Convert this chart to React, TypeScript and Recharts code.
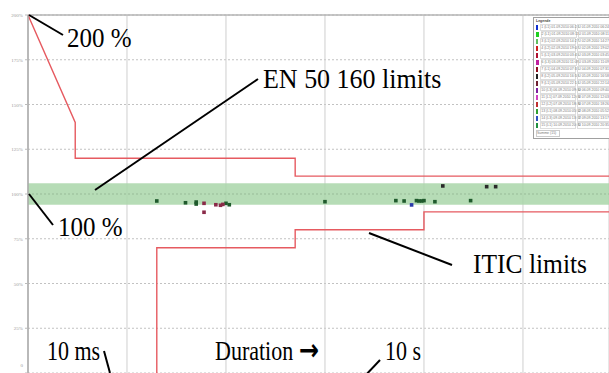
import React from "react";
import {
  CartesianGrid,
  ComposedChart,
  Legend,
  Line,
  ReferenceArea,
  ReferenceLine,
  Scatter,
  XAxis,
  YAxis,
} from "recharts";

// duration in seconds (log axis), residual voltage in %
const xTicks = [0.001, 0.01, 0.1, 1, 10, 100];
const yTicks = [0, 25, 50, 75, 100, 125, 150, 175, 200];

const iticUpper = [
  { t: 0.001, v: 200 },
  { t: 0.003, v: 140 },
  { t: 0.003, v: 120 },
  { t: 0.5, v: 120 },
  { t: 0.5, v: 110 },
  { t: 740, v: 110 },
];

const iticLower = [
  { t: 0.02, v: 0 },
  { t: 0.02, v: 70 },
  { t: 0.5, v: 70 },
  { t: 0.5, v: 80 },
  { t: 10, v: 80 },
  { t: 10, v: 90 },
  { t: 740, v: 90 },
];

const greenEvents = [
  { t: 0.02, v: 96.1 },
  { t: 0.039, v: 95.1 },
  { t: 0.05, v: 95.5 },
  { t: 0.05, v: 94.4 },
  { t: 0.1, v: 94.8 },
  { t: 0.108, v: 94.0 },
  { t: 1.0, v: 95.7 },
  { t: 5.2, v: 96.3 },
  { t: 6.3, v: 96.1 },
  { t: 8.4, v: 96.3 },
  { t: 8.9, v: 96.1 },
  { t: 9.5, v: 96.1 },
  { t: 10, v: 96.3 },
  { t: 12.9, v: 95.7 },
  { t: 29.6, v: 96.3 },
];

const redEvents = [
  { t: 0.06, v: 94.8 },
  { t: 0.06, v: 89.8 },
  { t: 0.079, v: 94.0 },
  { t: 0.088, v: 93.7 },
  { t: 0.093, v: 94.2 },
];

const blueEvents = [{ t: 7.5, v: 93.9 }];

const swellEvents = [
  { t: 15.5, v: 104.5 },
  { t: 43, v: 104.1 },
  { t: 53, v: 104.1 },
];

const legendColors = [
  "#1030d0", "#20d020", "#60c060", "#d02020", "#b01030",
  "#c020a0", "#901020", "#202020", "#702030", "#8020a0",
  "#d040c0", "#c03030", "#30a030", "#3050c0", "#209040",
];
const legendLabels = [
  "1 (L1) 01.09.2010 06:24", "2 (L1) 01.09.2010 08:11", "3 (L1) 02.09.2010 14:27",
  "4 (L2) 02.09.2010 19:02", "5 (L1) 03.09.2010 03:45", "6 (L3) 03.09.2010 11:09",
  "7 (L1) 04.09.2010 07:31", "8 (L2) 05.09.2010 16:58", "9 (L1) 05.09.2010 22:14",
  "10 (L3) 06.09.2010 09:40", "11 (L1) 07.09.2010 12:03", "12 (L2) 07.09.2010 18:26",
  "13 (L1) 08.09.2010 05:52", "14 (L3) 09.09.2010 13:17", "15 (L1) 10.09.2010 20:35",
];

function YTick({ x, y, payload }: any) {
  const v = payload.value;
  return (
    <text x={x} y={v === 0 ? y - 8 : y} dy={2} textAnchor="end" fontSize={5} fill="#9a9a9a">
      {v === 0 ? "0" : `${v}%`}
    </text>
  );
}

function EventDot({ cx, cy, fill }: any) {
  return <rect x={cx - 1.8} y={cy - 1.8} width={3.6} height={3.6} fill={fill} />;
}

function LegendBox() {
  return (
    <div
      style={{
        border: "1px solid #a0a0a0",
        background: "#fff",
        width: 80,
        padding: "1px 2px",
        fontFamily: "Arial, sans-serif",
        fontSize: 3.5,
        lineHeight: "5px",
        color: "#777",
        boxSizing: "border-box",
      }}
    >
      <div style={{ fontWeight: "bold", color: "#444" }}>Legende</div>
      {legendLabels.map((label, i) => (
        <div key={label} style={{ display: "flex", alignItems: "center", whiteSpace: "nowrap" }}>
          <span style={{ width: 3, height: 5, background: legendColors[i], marginRight: 2 }} />
          <span style={{ width: 34, border: "0.5px solid #ddd", marginRight: 1 }}>{label}</span>
          <span style={{ border: "0.5px solid #ddd" }}>{"U " + label.split(") ")[1]}</span>
        </div>
      ))}
      <div style={{ border: "0.5px solid #ccc", width: 22, marginTop: 1 }}>Summe (15)</div>
    </div>
  );
}

const serif = "'Liberation Serif', 'Times New Roman', serif";

// annotation text, slightly stretched vertically like the original slide
function Note({ x, y, size, sy, children }: any) {
  return (
    <text transform={`translate(${x},${y}) scale(1,${sy})`} fontSize={size} fontFamily={serif} fill="#000">
      {children}
    </text>
  );
}

export default function App() {
  return (
    <div style={{ position: "absolute", left: 0, top: 0, width: 609, height: 373, background: "#fff", overflow: "hidden" }}>
      <ComposedChart width={609} height={373} margin={{ top: 15, right: 0, bottom: 0, left: 0 }}>
        <CartesianGrid horizontal vertical={false} strokeDasharray="2 2" stroke="#c2c2c2" />
        <CartesianGrid horizontal={false} vertical stroke="#cfcfcf" />
        <XAxis
          type="number"
          dataKey="t"
          scale="log"
          domain={[0.001, 740]}
          ticks={xTicks}
          allowDataOverflow
          hide
        />
        <YAxis
          type="number"
          dataKey="v"
          domain={[0, 200]}
          ticks={yTicks}
          width={28}
          tick={<YTick />}
          tickSize={3}
          tickLine={{ stroke: "#bbb" }}
          axisLine={{ stroke: "#aaa", strokeWidth: 1.5 }}
          interval={0}
        />
        <ReferenceArea y1={94} y2={106} fill="#a9d6a9" fillOpacity={0.85} stroke="none" />
        <ReferenceLine y={100} stroke="#9cbf9c" strokeDasharray="2 2" />
        <ReferenceLine y={200} stroke="#b5b5b5" strokeWidth={1.5} />
        <Legend
          content={<LegendBox />}
          layout="horizontal"
          align="center"
          verticalAlign="middle"
          wrapperStyle={{ position: "absolute", left: 533, top: 17, width: 80 }}
        />
        <Line data={iticUpper} dataKey="v" type="linear" stroke="#e65a60" strokeWidth={1.4} dot={false} isAnimationActive={false} legendType="none" />
        <Line data={iticLower} dataKey="v" type="linear" stroke="#e65a60" strokeWidth={1.4} dot={false} isAnimationActive={false} legendType="none" />
        <Scatter data={greenEvents} dataKey="v" fill="#1f5a2c" shape={<EventDot />} isAnimationActive={false} legendType="none" />
        <Scatter data={redEvents} dataKey="v" fill="#8a2a48" shape={<EventDot />} isAnimationActive={false} legendType="none" />
        <Scatter data={blueEvents} dataKey="v" fill="#2a3aa8" shape={<EventDot />} isAnimationActive={false} legendType="none" />
        <Scatter data={swellEvents} dataKey="v" fill="#2a2a2a" shape={<EventDot />} isAnimationActive={false} legendType="none" />
      </ComposedChart>
      <svg width={609} height={373} style={{ position: "absolute", left: 0, top: 0, pointerEvents: "none" }}>
        <g stroke="#000" strokeWidth={2}>
          <line x1={29} y1={15} x2={63} y2={35} />
          <line x1={95} y1={190} x2={258} y2={79} />
          <line x1={29} y1={194} x2={53} y2={225} />
          <line x1={369} y1={233} x2={452} y2={265} />
          <line x1={104} y1={351} x2={110} y2={373} />
          <line x1={380} y1={360} x2={363} y2={378} />
        </g>
        <Note x={67} y={47} size={25} sy={1.1}>200 %</Note>
        <Note x={263} y={88} size={26} sy={1.05}>EN 50 160 limits</Note>
        <Note x={58} y={236} size={25} sy={1.1}>100 %</Note>
        <Note x={473} y={273} size={25.5} sy={1.05}>ITIC limits</Note>
        <Note x={47} y={360} size={22} sy={1.25}>10 ms</Note>
        <Note x={215} y={360} size={22} sy={1.25}>
          Duration{" "}
          <tspan fontFamily="'DejaVu Sans', sans-serif" fontWeight="bold" fontSize={24}>→</tspan>
        </Note>
        <Note x={385} y={360} size={22} sy={1.25}>10 s</Note>
      </svg>
    </div>
  );
}
